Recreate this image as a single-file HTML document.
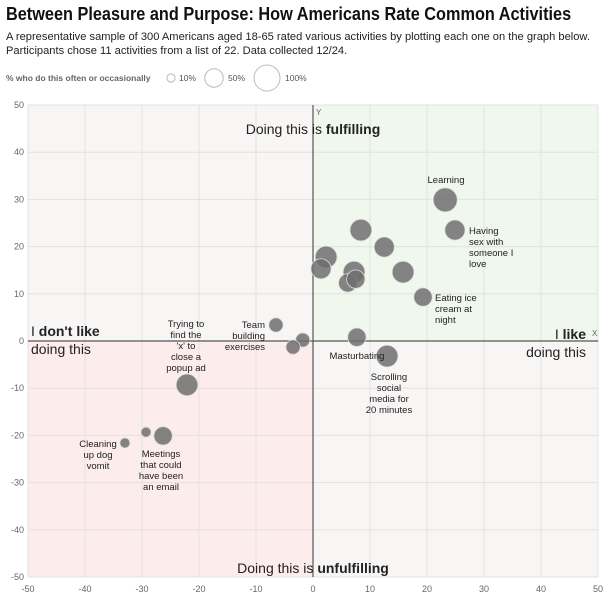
<!DOCTYPE html>
<html><head><meta charset="utf-8"><style>
body{margin:0;background:#fff;font-family:"Liberation Sans",sans-serif;width:612px;height:603px;overflow:hidden}
#t{position:absolute;left:6px;top:3px;font-size:18.5px;font-weight:bold;color:#111;white-space:nowrap;transform:scaleX(0.88);transform-origin:0 0}
#s{position:absolute;left:6px;top:30px;font-size:11.3px;color:#222;line-height:14px;white-space:nowrap;transform:scaleX(0.985);transform-origin:0 0}
</style></head><body>
<div id="t">Between Pleasure and Purpose: How Americans Rate Common Activities</div>
<div id="s">A representative sample of 300 Americans aged 18-65 rated various activities by plotting each one on the graph below.<br>Participants chose 11 activities from a list of 22. Data collected 12/24.</div>
<svg id="c" width="612" height="603" style="position:absolute;left:0;top:0" font-family="Liberation Sans, sans-serif"></svg>
<script>
const xs=[23.2,24.9,8.4,12.5,2.3,1.4,7.2,6.1,7.5,15.8,19.3,7.7,13,-1.8,-3.5,-6.5,-22.1,-26.3,-29.3,-33];
const ys=[29.9,23.5,23.5,19.9,17.8,15.3,14.6,12.3,13.1,14.6,9.3,0.8,-3.2,0.2,-1.3,3.4,-9.3,-20.1,-19.3,-21.6];
const pcts=[85,60,70,60,70,60,70,50,50,70,50,50,70,30,30,30,70,50,15,15];
const ticks=[-50,-40,-30,-20,-10,0,10,20,30,40,50];
const NS="http://www.w3.org/2000/svg",svg=document.getElementById('c');
const X=v=>313+v*5.7, Y=v=>341-v*4.72, R=p=>13*Math.sqrt(p/100);
function el(t,a,txt){const e=document.createElementNS(NS,t);for(const k in a)e.setAttribute(k,a[k]);if(txt!=null)e.textContent=txt;svg.appendChild(e);return e;}
let e;
e=el('rect',{x:X(-50),y:Y(50),width:X(0)-X(-50),height:Y(0)-Y(50),fill:'#f8f6f5'});
e=el('rect',{x:X(0),y:Y(50),width:X(50)-X(0),height:Y(0)-Y(50),fill:'#f0f7ed'});
e=el('rect',{x:X(-50),y:Y(0),width:X(0)-X(-50),height:Y(-50)-Y(0),fill:'#fdecec'});
e=el('rect',{x:X(0),y:Y(0),width:X(50)-X(0),height:Y(-50)-Y(0),fill:'#f8f6f5'});
ticks.forEach(t=>{
 e=el('line',{x1:X(t),x2:X(t),y1:Y(50),y2:Y(-50),stroke:'#e2e2e2','stroke-width':1});
 e=el('line',{x1:X(-50),x2:X(50),y1:Y(t),y2:Y(t),stroke:'#e2e2e2','stroke-width':1});
 e=el('text',{x:X(t),y:592,'font-size':9,fill:'#666','text-anchor':'middle'},t);
 e=el('text',{x:24,y:Y(t)+3,'font-size':9,fill:'#666','text-anchor':'end'},t);
});
e=el('line',{x1:X(0),x2:X(0),y1:Y(50),y2:Y(-50),stroke:'#555','stroke-width':1.2});
e=el('line',{x1:X(-50),x2:X(50),y1:Y(0),y2:Y(0),stroke:'#555','stroke-width':1.2});
e=el('text',{x:316,y:115,'font-size':8,fill:'#666'},'Y');
e=el('text',{x:592,y:336,'font-size':8,fill:'#666'},'X');
xs.forEach((x,i)=>{e=el('circle',{cx:X(x),cy:Y(ys[i]),r:R(pcts[i]),fill:'#6f6f6f','fill-opacity':0.85,stroke:'#ddd','stroke-width':0.8});

});
function lbl(x,y,lines,anchor,name,size){const t=el('text',{x:x,y:y,'font-size':size||9.5,fill:'#222','text-anchor':anchor});
lines.forEach((l,i)=>{const s=document.createElementNS(NS,'tspan');s.setAttribute('x',x);s.setAttribute('dy',i?11:0);s.textContent=l;t.appendChild(s);});}
lbl(446,183,['Learning'],'middle','label-learning');
lbl(469,234,['Having','sex with','someone I','love'],'start','label-sex');
lbl(435,301,['Eating ice','cream at','night'],'start','label-ice-cream');
lbl(357,359,['Masturbating'],'middle','label-masturbating');
lbl(389,380,['Scrolling','social','media for','20 minutes'],'middle','label-scrolling');
lbl(186,327,['Trying to','find the','\'x\' to','close a','popup ad'],'middle','label-popup');
lbl(265,328,['Team','building','exercises'],'end','label-team-building');
lbl(98,447,['Cleaning','up dog','vomit'],'middle','label-vomit');
lbl(161,457,['Meetings','that could','have been','an email'],'middle','label-meetings');
function big(x,y,norm,bold,anchor,name){const t=el('text',{x:x,y:y,'font-size':14,fill:'#222','text-anchor':anchor});
const a=document.createElementNS(NS,'tspan');a.textContent=norm;t.appendChild(a);const b=document.createElementNS(NS,'tspan');b.setAttribute('font-weight','bold');b.textContent=bold;t.appendChild(b);}
big(313,134,'Doing this is ','fulfilling','middle','label-fulfilling');
big(313,573,'Doing this is ','unfulfilling','middle','label-unfulfilling');
big(31,336,'I ','don\'t like','start','label-dont-like');
e=el('text',{x:31,y:354,'font-size':14,fill:'#222'},'doing this');
big(586,339,'I ','like','end','label-like');
e=el('text',{x:586,y:357,'font-size':14,fill:'#222','text-anchor':'end'},'doing this');
e=el('text',{x:6,y:81,'font-size':8.5,'font-weight':'bold',fill:'#666'},'% who do this often or occasionally');
[[10,171,179],[50,214,228],[100,267,285]].forEach(([p,cx,tx])=>{e=el('circle',{cx:cx,cy:78,r:R(p),fill:'none',stroke:'#bbb','stroke-width':1});
e=el('text',{x:tx,y:81,'font-size':8.5,fill:'#555'},p+'%');});
</script></body></html>
